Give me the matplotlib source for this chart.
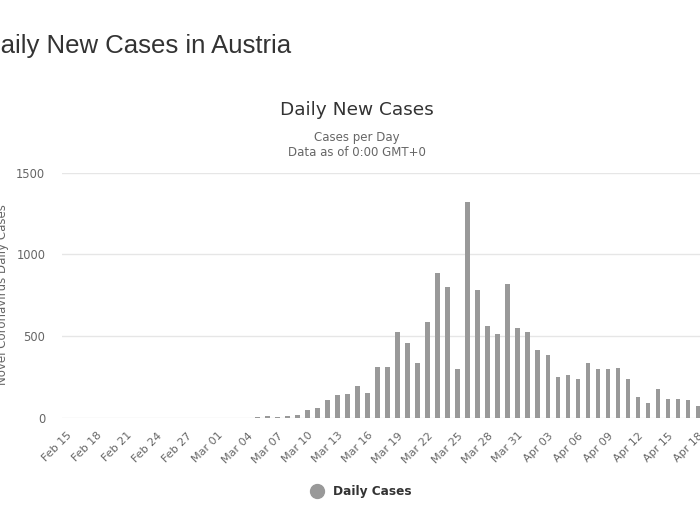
import numpy as np
import pandas as pd
import matplotlib
matplotlib.use("Agg")
import matplotlib.pyplot as plt
from matplotlib.lines import Line2D

# Feb 15 .. Apr 18, 2020
dates = pd.date_range("2020-02-15", "2020-04-18", freq="D")
daily_cases = [0] * 19 + [
    8, 12, 8, 12, 18, 47, 59, 108, 139, 145, 198, 153, 310, 310,   # Mar 05 - Mar 18
    525, 461, 337, 586, 888, 802, 298, 1321, 782, 565, 514, 822,  # Mar 19 - Mar 30
    553, 527, 414, 388, 251, 263, 239, 337, 298, 298, 308, 237,   # Mar 31 - Apr 11
    131, 92, 178, 118, 118, 112, 71,                              # Apr 12 - Apr 18
]
tick_every = 3

bar_color = "#999999"
grid_color = "#e6e6e6"
text_grey = "#666666"

fig = plt.figure(figsize=(7, 5.25), dpi=100)
ax = fig.add_axes([62 / 700, 107 / 525, 638 / 700, 245.3 / 525])

x = np.arange(len(dates))
ax.bar(x, daily_cases, width=0.45, color=bar_color, zorder=3)

ax.set_xlim(-0.5, 63.2)
ax.set_ylim(0, 1500)
ax.set_yticks([0, 500, 1000, 1500])
ax.yaxis.grid(True, color=grid_color, linewidth=1, zorder=0)
for s in ax.spines.values():
    s.set_visible(False)

ax.set_xticks(x[::tick_every])
ax.set_xticklabels([d.strftime("%b %d") for d in dates[::tick_every]],
                   rotation=45, ha="right", rotation_mode="anchor")
ax.tick_params(axis="x", length=0, pad=9, labelsize=8, labelcolor=text_grey)
ax.tick_params(axis="y", length=0, pad=12, labelsize=8.3, labelcolor=text_grey)

fig.text(-18 / 700, 1 - 53 / 525, "Daily New Cases in Austria", fontsize=18.5,
         family="Liberation Sans", color="#333333", va="baseline", ha="left")
fig.text(357 / 700, 1 - 110 / 525, "Daily New Cases", fontsize=13.3,
         color="#333333", ha="center", va="center")
fig.text(357 / 700, 1 - 137 / 525, "Cases per Day", fontsize=8.5,
         color=text_grey, ha="center", va="center")
fig.text(357 / 700, 1 - 152 / 525, "Data as of 0:00 GMT+0", fontsize=8.5,
         color=text_grey, ha="center", va="center")
fig.text(3 / 700, 1 - 295 / 525, "Novel Coronavirus Daily Cases", fontsize=8.5,
         color=text_grey, rotation=90, ha="center", va="center")

handle = Line2D([], [], marker="o", linestyle="none", markersize=10,
                markerfacecolor=bar_color, markeredgecolor=bar_color)
leg = fig.legend([handle], ["Daily Cases"], loc="center",
                 bbox_to_anchor=(358 / 700, 1 - 492 / 525), frameon=False,
                 prop={"weight": "bold", "size": 8.7}, handletextpad=0.3)
for t in leg.get_texts():
    t.set_color("#333333")

fig.savefig("out.png", dpi=100)
